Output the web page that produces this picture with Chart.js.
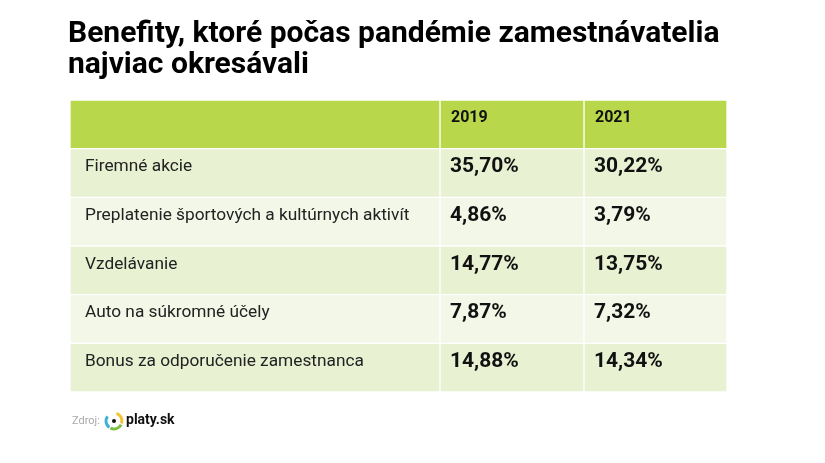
<!DOCTYPE html>
<html>
<head>
<meta charset="utf-8">
<script src="https://cdn.jsdelivr.net/npm/chart.js@4"></script>
<style>
  html, body { margin: 0; padding: 0; background: #fff; }
  #wrap { width: 825px; height: 463px; }
</style>
</head>
<body>
<div id="wrap"><canvas id="tableChart"></canvas></div>
<script>
// data
var titleLines = ['Benefity, ktoré počas pandémie zamestnávatelia', 'najviac okresávali'];
var years = ['2019', '2021'];
var benefits = [
    'Firemné akcie',
    'Preplatenie športových a kultúrnych aktivít',
    'Vzdelávanie',
    'Auto na súkromné účely',
    'Bonus za odporučenie zamestnanca'
];
var values2019 = [35.70, 4.86, 14.77, 7.87, 14.88];
var values2021 = [30.22, 3.79, 13.75, 7.32, 14.34];

// column edges in table units (label | 2019 | 2021)
var colEdges = [0, 370, 514, 657];
var rows = ['header'].concat(benefits);
var rowColor = function (i) {
    if (i === 0) return '#b8d74b';
    return i % 2 === 1 ? '#e9f1d3' : '#f3f7e7';
};
var fmt = function (v) { return v.toFixed(2).replace('.', ',') + '%'; };

var datasets = [];
for (var c = 0; c < 3; c++) {
    datasets.push({
        data: rows.map(function () { return [colEdges[c], colEdges[c + 1]]; }),
        backgroundColor: rows.map(function (r, i) { return rowColor(i); }),
        borderColor: '#ffffff',
        borderWidth: 1,
        borderSkipped: false,
        barPercentage: 1,
        categoryPercentage: 1,
        grouped: false
    });
}

var tableText = {
    id: 'tableText',
    afterDatasetsDraw: function (chart) {
        var ctx = chart.ctx, x = chart.scales.x, y = chart.scales.y;
        ctx.save();
        ctx.textBaseline = 'middle';
        ctx.fillStyle = '#111';
        // header
        ctx.font = 'bold 16px Roboto';
        years.forEach(function (yr, k) {
            ctx.fillText(yr, x.getPixelForValue(colEdges[k + 1]) + 11, y.getPixelForValue(0) - 6);
        });
        benefits.forEach(function (b, i) {
            var py = y.getPixelForValue(i + 1) - 6;
            ctx.font = '17.3px Roboto';
            ctx.fillStyle = '#222';
            ctx.fillText(b, x.getPixelForValue(0) + 15, py);
            ctx.font = 'bold 21px Roboto';
            ctx.fillStyle = '#111';
            ctx.fillText(fmt(values2019[i]), x.getPixelForValue(colEdges[1]) + 10, py);
            ctx.fillText(fmt(values2021[i]), x.getPixelForValue(colEdges[2]) + 10, py);
        });
        // title
        ctx.textBaseline = 'alphabetic';
        ctx.font = 'bold 30px Roboto';
        ctx.fillStyle = '#000';
        ctx.fillText(titleLines[0], 68, 42);
        ctx.fillText(titleLines[1], 68, 73);
        // source
        ctx.font = '11px Roboto';
        ctx.fillStyle = '#aaa';
        ctx.textBaseline = 'middle';
        ctx.fillText('Zdroj:', 72, 421);
        ctx.lineWidth = 3;
        var cols = ['#f2c230', '#7cc142', '#3db0d6'];
        for (var s = 0; s < 3; s++) {
            ctx.strokeStyle = cols[s];
            ctx.beginPath();
            ctx.arc(114, 421, 8, Math.PI * (-0.4 + s * 0.55), Math.PI * (0.1 + s * 0.55));
            ctx.stroke();
        }
        ctx.fillStyle = '#111';
        ctx.beginPath();
        ctx.arc(114, 421, 2, 0, Math.PI * 2);
        ctx.fill();
        ctx.font = 'bold 14px Roboto';
        ctx.fillText('platy.sk', 126, 420);
        ctx.restore();
    }
};

var table = document.getElementById('tableChart').getContext('2d');
var tableChart = new Chart(table, {
    type: 'bar',
    data: { labels: rows, datasets: datasets },
    options: {
        indexAxis: 'y',
        responsive: true,
        maintainAspectRatio: false,
        animation: false,
        layout: { padding: { left: 70, right: 98, top: 100, bottom: 71 } },
        scales: {
            x: { display: false, min: 0, max: 657 },
            y: { display: false }
        },
        plugins: { legend: { display: false }, tooltip: { enabled: false } }
    },
    plugins: [tableText]
});
</script>
</body>
</html>
